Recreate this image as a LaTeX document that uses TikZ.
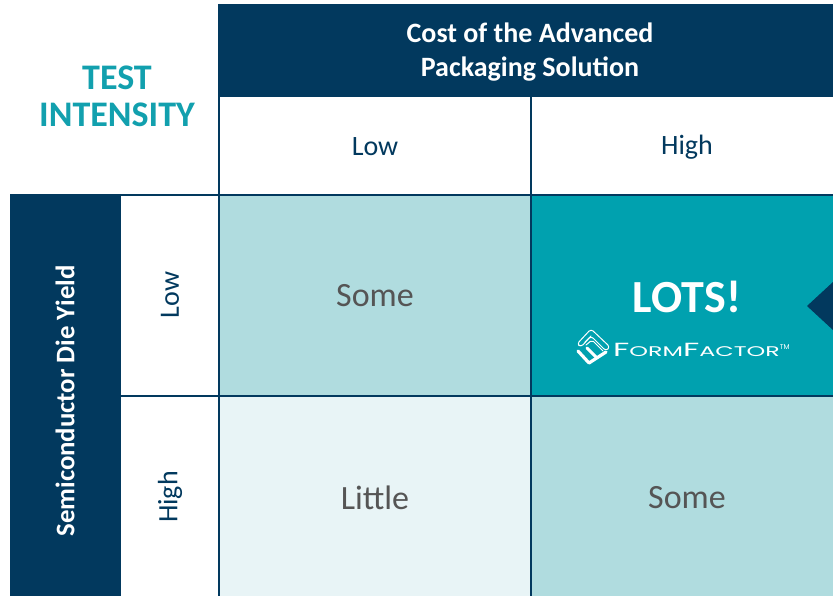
\documentclass[tikz,border=0pt]{standalone}
\usepackage{fontspec}
\setmainfont{Carlito}
\newfontfamily\logofont{Poppins}
\definecolor{navy}{RGB}{2,57,94}
\definecolor{tealtext}{RGB}{18,160,174}
\definecolor{lotsteal}{RGB}{0,161,175}
\definecolor{lightteal}{RGB}{176,220,223}
\definecolor{paleteal}{RGB}{232,244,246}
\definecolor{graytext}{RGB}{85,85,85}
\begin{document}
\begin{tikzpicture}[x=1pt,y=-1pt,
  gridline/.style={draw=navy,line width=1.5pt},
  hdr/.style={font=\fontsize{28}{34}\selectfont\bfseries, text=white, align=center},
  axislabel/.style={font=\fontsize{28}{30}\selectfont, text=navy},
  celltext/.style={font=\fontsize{34}{36}\selectfont, text=graytext},
  logostroke/.style={draw=white, line cap=round, line join=round}]
\useasboundingbox (0,0) rectangle (833,596);
\fill[white] (0,0) rectangle (833,596);
% bands and cells
\fill[navy] (219,4) rectangle (833,96);
\fill[navy] (10,195) rectangle (120,596);
\fill[lightteal] (219,195) rectangle (531,396);
\fill[lotsteal] (531,195) rectangle (833,396);
\fill[paleteal] (219,396) rectangle (531,596);
\fill[lightteal] (531,396) rectangle (833,596);
% grid lines
\draw[gridline] (219,96) -- (833,96);
\draw[gridline] (10,195) -- (833,195);
\draw[gridline] (120,396) -- (833,396);
\draw[gridline] (219,4) -- (219,596);
\draw[gridline] (531,96) -- (531,596);
\draw[gridline] (120,195) -- (120,596);
% pointer
\fill[navy] (833,282) -- (807,306) -- (833,330) -- cycle;
% texts
\node[hdr] (cost) at (530,52) {Cost of the Advanced\\Packaging Solution};
\node[font=\fontsize{36}{37}\selectfont\bfseries, text=tealtext, align=center] (ti) at (117,96) {TEST\\INTENSITY};
\node[axislabel] (clow) at (375,147) {Low};
\node[axislabel] (chigh) at (687,147) {High};
\node[font=\fontsize{26.8}{28}\selectfont\bfseries, text=white, rotate=90] (yield) at (65,401) {Semiconductor Die Yield};
\node[axislabel, rotate=90] (rlow) at (170,295) {Low};
\node[axislabel, rotate=90] (rhigh) at (170,497) {High};
\node[celltext] (c11) at (375,296) {Some};
\node[font=\fontsize{46}{48}\selectfont\bfseries, text=white] (c12) at (687,297) {LOTS!};
\node[celltext] (c21) at (375,498) {Little};
\node[celltext] (c22) at (687,498) {Some};
% logo icon
\draw[logostroke, line width=1pt, rounded corners=3pt] (577,344) -- (591,329) -- (610,347) -- (606,351) -- (591,336) -- (581,347) -- cycle;
\draw[logostroke, line width=1pt, rounded corners=2pt] (585,342) -- (591,336);
\draw[logostroke, line width=1pt, rounded corners=2pt] (586,345) -- (592,340) -- (603,351);
\draw[logostroke, line width=3.2pt] (578,351) -- (589,363) -- (606,352);
\draw[logostroke, line width=3pt] (587,348) -- (597,358);
% logo text
\node[anchor=west, text=white, inner sep=0pt] (logo) at (613,350) {\scalebox{1.70}[1]{\logofont\fontsize{19}{19}\selectfont F\fontsize{14}{14}\selectfont ORM\fontsize{19}{19}\selectfont F\fontsize{14}{14}\selectfont ACTOR}\raisebox{7pt}{\logofont\fontsize{7}{7}\selectfont TM}};
\end{tikzpicture}
\end{document}
